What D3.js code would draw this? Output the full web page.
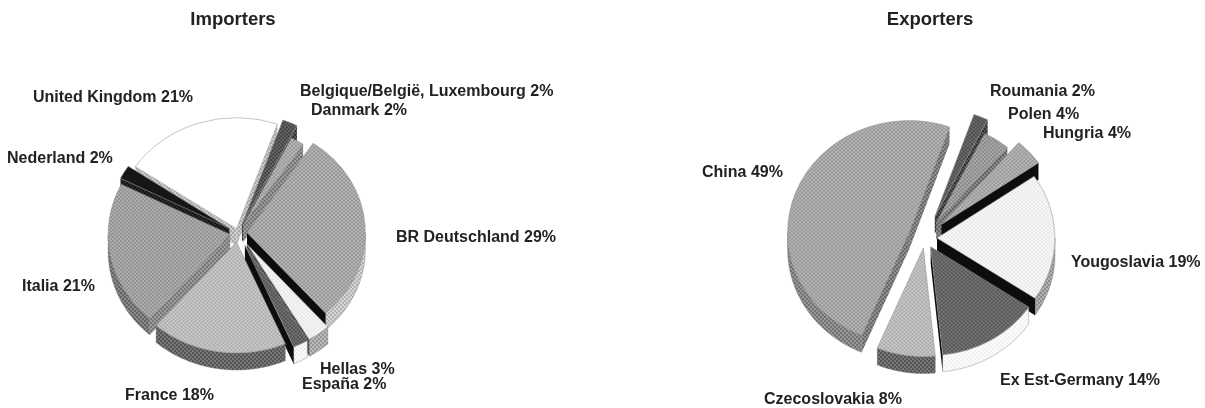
<!DOCTYPE html>
<html><head><meta charset="utf-8">
<script src="https://cdn.jsdelivr.net/npm/d3@7"></script>
<style>html,body{margin:0;background:#fff}svg{display:block}
text{font-family:"Liberation Sans",Arial,sans-serif;font-weight:700;fill:#222}</style>
</head><body><svg id="c" width="1205" height="408"></svg>
<script>
// ---- data
const impNames = ["BR Deutschland","Hellas","España","France","Italia","Nederland","United Kingdom","Belgique/België, Luxembourg","Danmark"];
const impValues = [29,3,2,18,21,2,21,2,2];
const expNames = ["Roumania","Polen","Hungria","Yougoslavia","Ex Est-Germany","Czecoslovakia","China"];
const expValues = [2,4,4,19,14,8,49];
// ---- styling / layout (not data)
const impExplode = [9,15,15,10,8,10,5,10,10];
const expExplode = [25,20,22,12,11,11,17];
const impRadius = [.97,1,1,1,1,1,1,1,.88];
const expRadius = [1,.92,1,1,1,1,1.03];
const impTop  = ["#a6a6a6","#efefef","#626262","#bcbcbc","#a0a0a0","#151515","#ffffff","#555555","#a8a8a8"];
const impWall = ["#c4c4c4","#a8a8a8","#f4f4f4","#666666","#777777","#222222","#dddddd","#444444","#999999"];
const impFace = ["#111111","#555555","#111111","#777777","#8a8a8a","#222222","#bbbbbb","#444444","#888888"];
const expTop  = ["#5c5c5c","#999999","#a8a8a8","#f0f0f0","#666666","#bababa","#a6a6a6"];
const expWall = ["#444444","#888888","#999999","#a0a0a0","#f6f6f6","#666666","#858585"];
const expFace = ["#444444","#777777","#111111","#111111","#111111","#666666","#7c7c7c"];
const impLabels = [[396,242],[320,374],[302,389],[125,400],[22,291],[7,163],[33,102],[300,96],[311,115]];
const expLabels = [[990,96],[1008,119],[1043,138],[1071,267],[1000,385],[764,404],[702,177]];

const svg = d3.select("#c");
const defs = svg.append("defs");
const blur = defs.append("filter").attr("id","scan").attr("x","-5%").attr("y","-5%").attr("width","110%").attr("height","110%");
blur.append("feGaussianBlur").attr("stdDeviation",0.4);
const patterns = new Map();
function fillFor(col){
  if(patterns.has(col)) return patterns.get(col);
  const c = d3.hsl(col), id = "p"+col.slice(1);
  if(c.l<0.13 || c.l>0.985){patterns.set(col,col);return col;}
  const amp = Math.min(0.07, c.l*0.3, (1-c.l)*0.5);
  const dark = d3.hsl(c.h,c.s,c.l-amp).formatHex(), light = d3.hsl(c.h,c.s,c.l+amp).formatHex();
  const p = defs.append("pattern").attr("id",id).attr("width",4).attr("height",4)
    .attr("patternUnits","userSpaceOnUse");
  p.append("rect").attr("width",4).attr("height",4).attr("fill",light);
  p.append("rect").attr("width",2).attr("height",2).attr("fill",dark);
  p.append("rect").attr("x",2).attr("y",2).attr("width",2).attr("height",2).attr("fill",dark);
  const u = `url(#${id})`; patterns.set(col,u); return u;
}
const rad = d3.scaleLinear().domain([0,360]).range([0,2*Math.PI]);

function pie3d(cfg){
  const {cx,cy,R,k,depth,names,values,start,explode,radius,top,wall,face,labels,title,titleX} = cfg;
  const total = d3.sum(values);
  const ang = d3.scaleLinear().domain([0,total]).range([start,start+360]);
  let acc=0;
  const slices = values.map((v,i)=>{const a=ang(acc);acc+=v;const b=ang(acc);return {i,a,b,mid:(a+b)/2};});
  const pt=(s,deg,r)=>{const t=rad(deg);return [s.x+r*Math.sin(t), s.y-r*k*Math.cos(t)];};
  slices.forEach(s=>{const t=rad(s.mid);s.x=cx+explode[s.i]*Math.sin(t);s.y=cy-explode[s.i]*k*Math.cos(t);s.r=R*radius[s.i];});
  const order = slices.slice().sort((p,q)=>(-Math.cos(rad(p.mid)))-(-Math.cos(rad(q.mid))));
  const g = svg.append("g").attr("filter","url(#scan)");
  const line = d3.line();
  order.forEach(s=>{
    const sg=g.append("g");
    [0,360].forEach(o=>{
      const a0=Math.max(s.a,90+o), a1=Math.min(s.b,270+o);
      if(a1<=a0) return;
      const steps=d3.range(a0,a1,1).concat([a1]);
      const upper=steps.map(d=>pt(s,d,s.r));
      const lower=upper.map(p=>[p[0],p[1]+depth]).reverse();
      sg.append("path").attr("d",line(upper.concat(lower))+"Z").attr("fill",fillFor(wall[s.i]))
        .attr("stroke","#777").attr("stroke-width",.4);
    });
    const sinOf=d=>Math.sin(rad(d));
    const quad=d=>{const p=pt(s,d,s.r);return line([[s.x,s.y],p,[p[0],p[1]+depth],[s.x,s.y+depth]])+"Z";};
    if(sinOf(s.a)<0) sg.append("path").attr("d",quad(s.a)).attr("fill",fillFor(face[s.i]));
    if(sinOf(s.b)>0) sg.append("path").attr("d",quad(s.b)).attr("fill",fillFor(face[s.i]));
    const arc=d3.arc().innerRadius(0).outerRadius(s.r).startAngle(rad(s.a)).endAngle(rad(s.b));
    sg.append("path").attr("d",arc()).attr("transform",`translate(${s.x},${s.y}) scale(1,${k})`)
      .attr("fill",fillFor(top[s.i])).attr("stroke","#888").attr("stroke-width",.5)
      .attr("vector-effect","non-scaling-stroke");
  });
  names.forEach((n,i)=>{
    svg.append("text").attr("x",labels[i][0]).attr("y",labels[i][1]).attr("font-size",16).text(`${n} ${values[i]}%`);
  });
  svg.append("text").attr("x",titleX).attr("y",25).attr("text-anchor","middle").attr("font-size",18.5).text(title);
}
pie3d({cx:238,cy:233,R:122,k:.91,depth:17,names:impNames,values:impValues,start:34,explode:impExplode,radius:impRadius,
  top:impTop,wall:impWall,face:impFace,labels:impLabels,title:"Importers",titleX:233});
pie3d({cx:925,cy:238,R:118,k:.92,depth:17,names:expNames,values:expValues,start:19.4,explode:expExplode,radius:expRadius,
  top:expTop,wall:expWall,face:expFace,labels:expLabels,title:"Exporters",titleX:930});
</script></body></html>
